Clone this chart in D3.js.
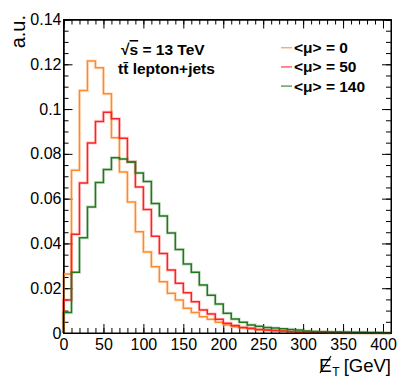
<!DOCTYPE html>
<html lang="en">
<head>
<meta charset="utf-8">
<title>MET</title>
<script type="text/javascript" src="https://d3js.org/d3.v7.min.js"></script>
<style>
body {
	margin: 0;
	background: #fff;
}
svg text {
	font-family: "Liberation Sans", Arial, Helvetica, sans-serif;
	fill: #000;
}
.axis path, .axis line {
	stroke: #000;
	stroke-width: 1;
}
.axis text {
	font-size: 16px;
}
.hist {
	fill: none;
	stroke-width: 1.5;
}
.halo {
	fill: none;
	stroke-width: 3.2;
	stroke-opacity: 0.2;
}
</style>
</head>
<body>
<div id="d3-container"></div>
<script type="text/javascript">

// bins of 10 GeV, from 0 to 410
var binLow = d3.range(0, 410, 10);

var mu0 = [0.0263, 0.0727, 0.1083, 0.1215, 0.1184, 0.1068, 0.0872, 0.0719, 0.0585, 0.0452,
           0.0362, 0.0296, 0.0229, 0.0177, 0.0147, 0.0110, 0.0091, 0.0073, 0.0061, 0.0048,
           0.0036, 0.0028, 0.0024, 0.0019, 0.0015, 0.0012, 0.0010, 0.0008, 0.0006, 0.0005,
           0.0004, 0.0003, 0.0003, 0.0002, 0.0002, 0.0001, 0.0001, 0.0001, 0.0001, 0.0000,
           0.0000];
var mu50 = [0.0147, 0.0441, 0.0670, 0.0849, 0.0945, 0.0986, 0.0957, 0.0870, 0.0764, 0.0652,
            0.0551, 0.0432, 0.0355, 0.0281, 0.0222, 0.0180, 0.0140, 0.0103, 0.0085, 0.0061,
            0.0043, 0.0033, 0.0025, 0.0021, 0.0016, 0.0013, 0.0011, 0.0009, 0.0007, 0.0005,
            0.0004, 0.0003, 0.0003, 0.0002, 0.0002, 0.0001, 0.0001, 0.0001, 0.0000, 0.0000,
            0.0000];
var mu140 = [0.0091, 0.0271, 0.0425, 0.0563, 0.0672, 0.0730, 0.0783, 0.0777, 0.0764, 0.0715,
             0.0677, 0.0578, 0.0523, 0.0447, 0.0373, 0.0308, 0.0271, 0.0214, 0.0169, 0.0129,
             0.0088, 0.0062, 0.0048, 0.0036, 0.0030, 0.0025, 0.0022, 0.0019, 0.0016, 0.0013,
             0.0009, 0.0007, 0.0006, 0.0005, 0.0005, 0.0004, 0.0003, 0.0003, 0.0002, 0.0002,
             0.0001];

var legendLabels = ["<\u03bc> = 0", "<\u03bc> = 50", "<\u03bc> = 140"];
var colors = ["#ff8a2e", "#ff2222", "#23781c"];

var xTicks = [0, 50, 100, 150, 200, 250, 300, 350, 400];
var yTicks = [0, 0.02, 0.04, 0.06, 0.08, 0.1, 0.12, 0.14];
var yTickLabels = ["0", "0.02", "0.04", "0.06", "0.08", "0.1", "0.12", "0.14"];

var w = 399;
var h = 383;
var margin = {left: 63.5, right: 8, top: 19.5, bottom: 50};

var svg = d3.select("div#d3-container")
            .append("svg")
            .attr("width", w)
            .attr("height", h);

var x = d3.scaleLinear()
          .domain([0, 410])
          .range([margin.left, w - margin.right]);

var y = d3.scaleLinear()
          .domain([0, 0.14])
          .range([h - margin.bottom, margin.top]);

// minor ticks first, then the major ones with labels
svg.append("g").attr("class", "axis")
   .attr("transform", `translate(0,${y(0)})`)
   .call(d3.axisBottom(x).tickValues(d3.range(0, 411, 10)).tickSize(-5).tickFormat(""));
svg.append("g").attr("class", "axis")
   .attr("transform", `translate(0,${y(0)})`)
   .call(d3.axisBottom(x).tickValues(xTicks).tickSize(-9).tickPadding(6).tickSizeOuter(0));

svg.append("g").attr("class", "axis")
   .attr("transform", `translate(0,${y(0.14)})`)
   .call(d3.axisTop(x).tickValues(d3.range(0, 411, 10)).tickSize(-5).tickFormat(""));
svg.append("g").attr("class", "axis")
   .attr("transform", `translate(0,${y(0.14)})`)
   .call(d3.axisTop(x).tickValues(xTicks).tickSize(-9).tickFormat("").tickSizeOuter(0));

svg.append("g").attr("class", "axis")
   .attr("transform", `translate(${x(0)},0)`)
   .call(d3.axisLeft(y).tickValues(d3.range(0, 0.1401, 0.005)).tickSize(-5).tickFormat(""));
svg.append("g").attr("class", "axis")
   .attr("transform", `translate(${x(0)},0)`)
   .call(d3.axisLeft(y).tickValues(yTicks).tickSize(-9).tickPadding(2).tickSizeOuter(0)
           .tickFormat((d, i) => yTickLabels[i]));

svg.append("g").attr("class", "axis")
   .attr("transform", `translate(${x(410)},0)`)
   .call(d3.axisRight(y).tickValues(d3.range(0, 0.1401, 0.005)).tickSize(-5).tickFormat(""));
svg.append("g").attr("class", "axis")
   .attr("transform", `translate(${x(410)},0)`)
   .call(d3.axisRight(y).tickValues(yTicks).tickSize(-9).tickFormat("").tickSizeOuter(0));

// step histograms
var step = d3.line()
             .x(d => x(d[0]))
             .y(d => y(d[1]))
             .curve(d3.curveStepAfter);

function histPoints(vals) {
	var pts = [[0, 0]];
	vals.forEach((v, i) => pts.push([binLow[i], v]));
	pts.push([binLow[vals.length - 1] + 10, 0]);
	return pts;
}

[mu0, mu50, mu140].forEach((vals, i) => {
	svg.append("path").attr("class", "halo")
	   .attr("stroke", colors[i])
	   .attr("d", step(histPoints(vals)));
	svg.append("path").attr("class", "hist")
	   .attr("stroke", colors[i])
	   .attr("d", step(histPoints(vals)));
});

// frame
svg.append("rect")
   .attr("x", x(0))
   .attr("y", y(0.14))
   .attr("width", x(410) - x(0))
   .attr("height", y(0) - y(0.14))
   .attr("fill", "none")
   .attr("stroke", "#000")
   .attr("stroke-width", 1);

// axis titles
svg.append("text")
   .attr("transform", `translate(25,15) rotate(-90)`)
   .attr("text-anchor", "end")
   .style("font-size", "20px")
   .text("a.u.");

// slashed E, then subscript T and the unit
svg.append("text")
   .attr("x", 319)
   .attr("y", 372)
   .style("font-size", "19px")
   .text("E");
svg.append("line")
   .attr("x1", 320).attr("y1", 373)
   .attr("x2", 331).attr("y2", 356)
   .attr("stroke", "#000")
   .attr("stroke-width", 1.2);
var xt = svg.append("text")
   .attr("x", 391)
   .attr("y", 372)
   .attr("text-anchor", "end")
   .style("font-size", "18.5px");
xt.append("tspan").attr("dy", 4).style("font-size", "12px").text("T");
xt.append("tspan").attr("dy", -4).attr("dx", 4).text("[GeV]");

// labels
var rs = svg.append("text")
   .attr("x", 121)
   .attr("y", 55)
   .style("font-size", "15.5px")
   .style("font-weight", "bold");
rs.append("tspan").text("\u221a");
rs.append("tspan").style("text-decoration", "overline").text("s");
rs.append("tspan").text(" = 13 TeV");

svg.append("text")
   .attr("x", 118)
   .attr("y", 74)
   .style("font-size", "15.5px")
   .style("font-weight", "bold")
   .text("tt\u0304 lepton+jets");

// legend
var legend = svg.append("g");
legendLabels.forEach((label, i) => {
	var ly = 47.7 + i * 19.2;
	legend.append("line")
	      .attr("x1", 281).attr("x2", 292)
	      .attr("y1", ly).attr("y2", ly)
	      .attr("stroke", colors[i])
	      .attr("stroke-opacity", 0.7)
	      .attr("stroke-width", 1.5);
	legend.append("text")
	      .attr("x", 294)
	      .attr("y", ly)
	      .attr("dy", "0.36em")
	      .style("font-size", "15.5px")
	      .style("font-weight", "bold")
	      .text(label);
});

</script>
</body>
</html>
